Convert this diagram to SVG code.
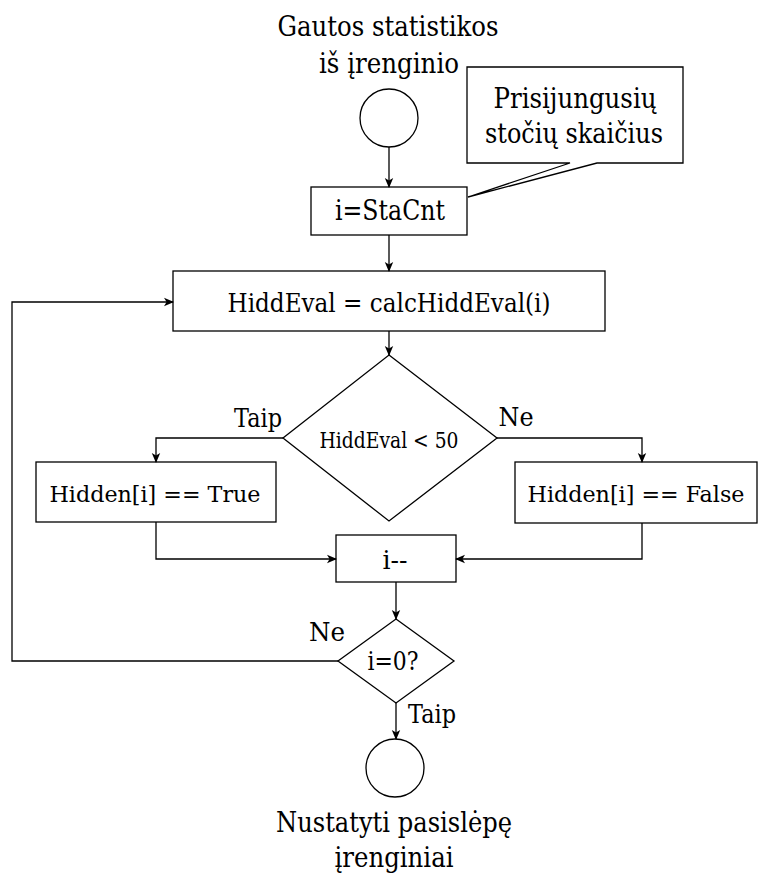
<svg xmlns="http://www.w3.org/2000/svg" width="758" height="874" viewBox="0 0 758 874">
  <defs>
    <!-- filled arrowhead with a small notch, tip at the line end -->
    <marker id="arrow" viewBox="0 0 10 10" refX="9" refY="5" markerWidth="10" markerHeight="10" markerUnits="userSpaceOnUse" orient="auto">
      <path d="M0,0.8 L10,5 L0,9.2 L2.6,5 Z" fill="#000"/>
    </marker>
    <style>
      .shape { fill: #fff; stroke: #000; stroke-width: 1.3; }
      .edge { fill: none; stroke: #000; stroke-width: 1.3; marker-end: url(#arrow); }
      text { font-family: "DejaVu Serif", "Liberation Serif", serif; fill: #000; text-anchor: middle; }
      .big { font-size: 28px; }
      .mid { font-size: 26px; }
      .box { font-size: 23px; }
      .small { font-size: 21.5px; }
      .lbl { font-size: 25.5px; }
    </style>
  </defs>

  <!-- start terminal -->
  <g id="start">
    <text class="big" x="388" y="36" textLength="221" lengthAdjust="spacingAndGlyphs">Gautos statistikos</text>
    <text class="big" x="389" y="73" textLength="140" lengthAdjust="spacingAndGlyphs">iš įrenginio</text>
    <circle class="shape" cx="389" cy="118" r="29"/>
  </g>

  <!-- note attached to the counter assignment -->
  <g id="note">
    <path class="shape" d="M467,67 H683 V163 H597 L468,197 L570,163 H467 Z"/>
    <text class="big" x="575" y="108" textLength="163" lengthAdjust="spacingAndGlyphs">Prisijungusių</text>
    <text class="big" x="574" y="143" textLength="178" lengthAdjust="spacingAndGlyphs">stočių skaičius</text>
  </g>

  <g id="init">
    <rect class="shape" x="311" y="187" width="156" height="48"/>
    <text class="big" x="390" y="220" textLength="110" lengthAdjust="spacingAndGlyphs">i=StaCnt</text>
  </g>

  <g id="calc">
    <rect class="shape" x="173" y="271" width="432" height="60"/>
    <text class="mid" x="389" y="312" textLength="323" lengthAdjust="spacingAndGlyphs">HiddEval = calcHiddEval(i)</text>
  </g>

  <g id="check">
    <path class="shape" d="M389,355 L497,438 L389,521 L283,438 Z"/>
    <text class="small" x="389" y="448" textLength="139" lengthAdjust="spacingAndGlyphs">HiddEval &lt; 50</text>
  </g>

  <g id="hidden-true">
    <rect class="shape" x="36" y="462" width="240" height="60"/>
    <text class="box" x="155" y="502" textLength="211" lengthAdjust="spacingAndGlyphs">Hidden[i] == True</text>
  </g>

  <g id="hidden-false">
    <rect class="shape" x="515" y="462" width="242" height="61"/>
    <text class="box" x="636" y="502" textLength="217" lengthAdjust="spacingAndGlyphs">Hidden[i] == False</text>
  </g>

  <g id="decrement">
    <rect class="shape" x="336" y="535" width="120" height="47"/>
    <text class="mid" x="395" y="569" textLength="25" lengthAdjust="spacingAndGlyphs">i--</text>
  </g>

  <g id="done-check">
    <path class="shape" d="M396,619 L454,661 L396,703 L338,661 Z"/>
    <text class="mid" x="393" y="670" textLength="51" lengthAdjust="spacingAndGlyphs">i=0?</text>
  </g>

  <g id="end">
    <circle class="shape" cx="395" cy="768" r="29"/>
    <text class="big" x="394" y="832" textLength="236" lengthAdjust="spacingAndGlyphs">Nustatyti pasislėpę</text>
    <text class="big" x="394" y="867" textLength="119" lengthAdjust="spacingAndGlyphs">įrenginiai</text>
  </g>

  <!-- connectors -->
  <g id="connectors">
    <path class="edge" d="M389,147 V187"/>
    <path class="edge" d="M389,235 V271"/>
    <path class="edge" d="M389,331 V355"/>
    <path class="edge" d="M283,438 H156 V462"/>
    <path class="edge" d="M497,438 H642 V462"/>
    <path class="edge" d="M156,522 V559 H336"/>
    <path class="edge" d="M642,523 V559 H456"/>
    <path class="edge" d="M396,582 V619"/>
    <path class="edge" d="M338,661 H12 V302 H173"/>
    <path class="edge" d="M396,703 V739"/>
    <text class="lbl" x="258" y="427" textLength="48" lengthAdjust="spacingAndGlyphs">Taip</text>
    <text class="lbl" x="516" y="426" textLength="35" lengthAdjust="spacingAndGlyphs">Ne</text>
    <text class="lbl" x="327" y="641" textLength="36" lengthAdjust="spacingAndGlyphs">Ne</text>
    <text class="lbl" x="432" y="723" textLength="48" lengthAdjust="spacingAndGlyphs">Taip</text>
  </g>
</svg>
